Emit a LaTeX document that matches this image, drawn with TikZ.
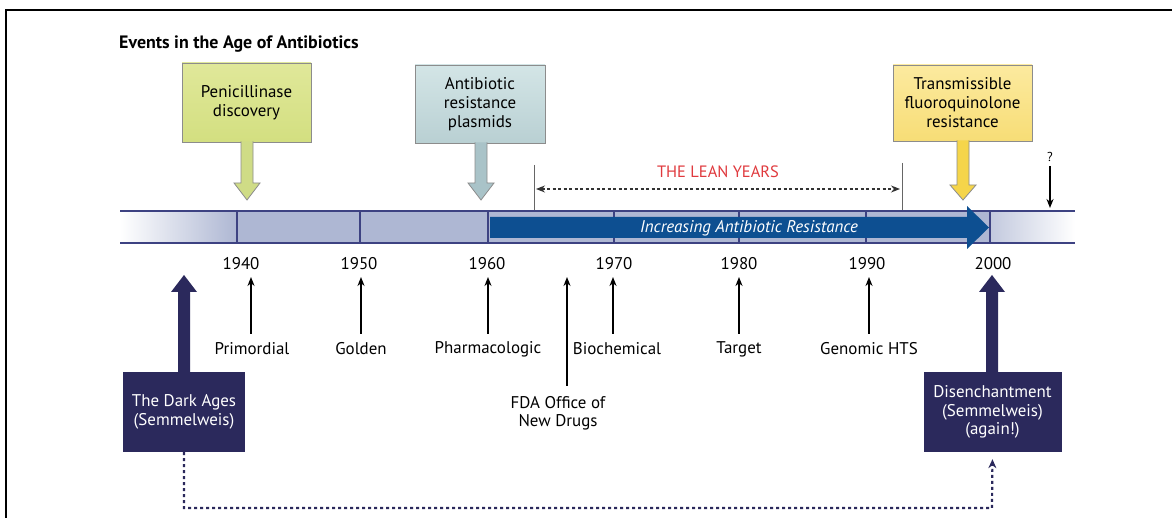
\documentclass[tikz,border=0pt]{standalone}
\usepackage{fontspec}
\setmainfont{PT Sans}
\usetikzlibrary{arrows.meta}
\definecolor{barfill}{HTML}{AEB7D3}
\definecolor{barline}{HTML}{3D4282}
\definecolor{navy}{HTML}{2B295C}
\definecolor{incblue}{HTML}{0D4F91}
\definecolor{leanred}{HTML}{E03A3E}
\definecolor{boxedge}{HTML}{8C8C8C}
\definecolor{penTop}{HTML}{E0E89A}
\definecolor{penBot}{HTML}{D3DF80}
\definecolor{penArr}{HTML}{CFDC86}
\definecolor{plasTop}{HTML}{D3E5E6}
\definecolor{plasBot}{HTML}{B9D0D3}
\definecolor{plasArr}{HTML}{A9C3C8}
\definecolor{fluoTop}{HTML}{FCEA9F}
\definecolor{fluoBot}{HTML}{F7DD76}
\definecolor{fluoArr}{HTML}{F5D54A}
\tikzset{
  lbl/.style={font=\fontsize{17}{18}\selectfont, inner sep=0pt, align=center},
  yearlbl/.style={font=\fontsize{17}{18}\selectfont, inner sep=0pt},
  callbox/.style={draw=boxedge, line width=0.8pt, inner sep=0pt, align=center,
     font=\fontsize{17}{19}\selectfont},
  navybox/.style={fill=navy, text=white, inner sep=0pt, align=center,
     font=\fontsize{17}{18.5}\selectfont},
  thinup/.style={-{Stealth[length=9bp,width=7bp]}, line width=1.5pt, black},
  divider/.style={barline, line width=1.5pt},
  guide/.style={draw=black!60, line width=0.8pt},
  leanarrow/.style={{Stealth[length=9bp,width=7bp]}-{Stealth[length=9bp,width=7bp]}, black!80, line width=1.2pt, dash pattern=on 3bp off 2.5bp},
  loopline/.style={navy, line width=2.2pt, dash pattern=on 3bp off 3bp, -{Stealth[length=9bp,width=8bp]}},
}
\newcommand{\calloutarrow}[5]{%
  \fill[#5] (#1-6,#2) -- (#1-6,#3) -- (#1-13,#3) -- (#1,#4) -- (#1+13,#3) -- (#1+6,#3) -- (#1+6,#2) -- cycle;
  \draw[boxedge, line width=0.8pt, line join=miter] (#1-6,#2) -- (#1-6,#3) -- (#1-13,#3) -- (#1,#4) -- (#1+13,#3) -- (#1+6,#3) -- (#1+6,#2);
}
\newcommand{\fatup}[3]{%
  \fill[navy] (#1-6,#2) -- (#1-6,#3+17) -- (#1-13,#3+17) -- (#1,#3) -- (#1+13,#3+17) -- (#1+6,#3+17) -- (#1+6,#2) -- cycle;
}
\begin{document}
\begin{tikzpicture}[x=1bp,y=-1bp]
\useasboundingbox (0,0) rectangle (1172,518);
\fill[white] (0,0) rectangle (1172,518);
% frame
\draw[black, line width=2.5pt] (6,518) -- (6,10) -- (1172,10);

% title
\node[anchor=west, inner sep=0pt, font=\fontsize{18}{20}\selectfont\bfseries] (title) at (119,44) {Events in the Age of Antibiotics};

% timeline bar
\shade[left color=white, right color=barfill] (120,211) rectangle (237,243);
\fill[barfill] (237,211) rectangle (990,243);
\shade[left color=barfill!75, right color=white] (990,211) rectangle (1075,243);
\draw[barline, line width=1.5pt] (120,211) -- (1075,211);
\draw[barline, line width=1.5pt] (120,243) -- (1075,243);
\foreach \xx in {237,360,488,614,739,866,990} {
  \draw[divider] (\xx,211) -- (\xx,243);
}

% increasing resistance arrow
\fill[incblue] (490,217) -- (967,217) -- (967,206) -- (989,227.5) -- (967,249) -- (967,238) -- (490,238) -- cycle;
\node[font=\fontsize{17}{18}\selectfont\itshape, text=white, inner sep=0pt] (incr) at (749,228) {Increasing Antibiotic Resistance};

% years
\node[yearlbl] (y1940) at (241,264) {1940};
\node[yearlbl] (y1950) at (359,264) {1950};
\node[yearlbl] (y1960) at (487,264) {1960};
\node[yearlbl] (y1970) at (614,264) {1970};
\node[yearlbl] (y1980) at (739,264) {1980};
\node[yearlbl] (y1990) at (867,264) {1990};
\node[yearlbl] (y2000) at (993,264) {2000};

% callouts
\node[callbox, top color=penTop, bottom color=penBot, minimum width=129bp, minimum height=79bp] (pen) at (246.5,102.5) {Penicillinase\\discovery};
\calloutarrow{247}{141.5}{183}{200}{penArr}
\node[callbox, top color=plasTop, bottom color=plasBot, minimum width=130bp, minimum height=78bp] (plas) at (480,104) {Antibiotic\\resistance\\plasmids};
\calloutarrow{481}{142.5}{183}{200}{plasArr}
\node[callbox, top color=fluoTop, bottom color=fluoBot, minimum width=139bp, minimum height=76bp] (fluo) at (962.5,103) {Transmissible\\fluoroquinolone\\resistance};
\calloutarrow{963}{140.5}{185}{200}{fluoArr}

% lean years
\coordinate (leanL) at (534,165);
\coordinate (leanLb) at (534,210);
\coordinate (leanR) at (902,163);
\coordinate (leanRb) at (902,210);
\draw[guide] (leanL) -- (leanLb);
\draw[guide] (leanR) -- (leanRb);
\coordinate (la) at (536,189);
\coordinate (lb) at (900,189);
\draw[leanarrow] (la) -- (lb);
\node[font=\fontsize{16.5}{18}\selectfont, text=leanred, inner sep=0pt] (lean) at (718,172) {THE LEAN YEARS};

% question mark
\node[font=\fontsize{13}{14}\selectfont, inner sep=0pt] (q) at (1050,157) {?};
\coordinate (qend) at (1050,208);
\draw[-{Stealth[length=9bp,width=7bp]}, line width=1.5pt] (q.south) ++(0,4) -- (qend);

% era labels with thin arrows
\node[lbl] (prim) at (252,349) {Primordial};
\node[lbl] (gold) at (361,349) {Golden};
\node[lbl] (pharm) at (488,349) {Pharmacologic};
\node[lbl] (bio) at (617,349) {Biochemical};
\node[lbl] (targ) at (739,349) {Target};
\node[lbl] (geno) at (869,349) {Genomic HTS};
\node[lbl] (fda) at (558,413) {FDA Office of\\New Drugs};
\coordinate (aprim) at (251,277);
\coordinate (agold) at (361,277);
\coordinate (apharm) at (488,277);
\coordinate (abio) at (613,277);
\coordinate (atarg) at (739,277);
\coordinate (ageno) at (869,277);
\coordinate (afda) at (567,277);
\draw[thinup] (251,334) -- (aprim);
\draw[thinup] (361,334) -- (agold);
\draw[thinup] (488,334) -- (apharm);
\draw[thinup] (613,334) -- (abio);
\draw[thinup] (739,334) -- (atarg);
\draw[thinup] (869,334) -- (ageno);
\draw[thinup] (567,386) -- (afda);

% dark ages and disenchantment
\node[navybox, minimum width=122bp, minimum height=80bp] (dark) at (184,412) {The Dark Ages\\(Semmelweis)};
\fatup{184}{373}{275}
\node[navybox, minimum width=138bp, minimum height=80bp] (dis) at (992.5,412) {Disenchantment\\(Semmelweis)\\(again!)};
\fatup{992}{373}{275}

% loop
\coordinate (loopA) at (184,508);
\coordinate (loopB) at (992,508);
\draw[loopline, shorten >=7bp] (dark.south) -- (loopA) -- (loopB) -- (dis.south);
\end{tikzpicture}
\end{document}
